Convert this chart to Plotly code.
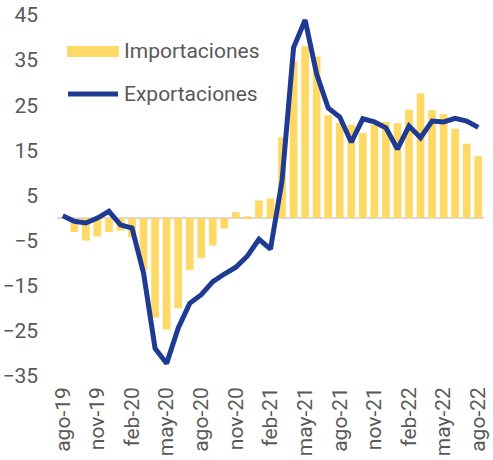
import plotly.graph_objects as go

months = ["ago-19", "sep-19", "oct-19", "nov-19", "dic-19", "ene-20", "feb-20", "mar-20",
          "abr-20", "may-20", "jun-20", "jul-20", "ago-20", "sep-20", "oct-20", "nov-20",
          "dic-20", "ene-21", "feb-21", "mar-21", "abr-21", "may-21", "jun-21", "jul-21",
          "ago-21", "sep-21", "oct-21", "nov-21", "dic-21", "ene-22", "feb-22", "mar-22",
          "abr-22", "may-22", "jun-22", "jul-22", "ago-22"]

importaciones = [0.0, -3.1, -5.0, -4.1, -3.1, -2.8, -4.3, -11.5, -22.1, -24.7, -20.0, -11.5,
                 -8.9, -6.1, -2.3, 1.3, 0.4, 3.9, 4.3, 17.9, 34.8, 38.1, 35.8, 22.8, 21.1,
                 20.7, 18.9, 20.7, 21.3, 21.0, 24.0, 27.6, 23.9, 23.0, 19.8, 16.5, 13.7]

exportaciones = [0.5, -0.7, -1.1, 0.0, 1.5, -1.5, -2.2, -12.2, -28.9, -32.2, -24.4, -18.9,
                 -17.0, -14.1, -12.4, -10.9, -8.4, -4.7, -6.9, 8.3, 37.8, 43.9, 31.9, 24.4,
                 22.4, 16.8, 22.0, 21.3, 20.0, 15.3, 20.4, 17.8, 21.5, 21.3, 22.1, 21.5, 20.1]

y_ticks = [45, 35, 25, 15, 5, -5, -15, -25, -35]
x_ticks = months[::3]

BAR_COLOR = "#FFD966"
LINE_COLOR = "#1F3A93"
TEXT_COLOR = "#595959"
FS = 21

W, H = 493, 460
ML, MR, MT, MB = 57, 9, 15, 84
PW, PH = W - ML - MR, H - MT - MB


def px_x(px):
    return (px - ML) / PW


def px_y(py):
    return (H - MB - py) / PH


fig = go.Figure()
fig.add_trace(go.Bar(x=months, y=importaciones, name="Importaciones",
                     marker=dict(color=BAR_COLOR, line=dict(width=0))))
fig.add_trace(go.Scatter(x=months, y=exportaciones, name="Exportaciones", mode="lines",
                         line=dict(color=LINE_COLOR, width=5)))

# legend drawn in pixel positions
fig.add_shape(type="rect", xref="paper", yref="paper",
              x0=px_x(67), x1=px_x(119), y0=px_y(57), y1=px_y(46),
              fillcolor=BAR_COLOR, line=dict(width=0))
fig.add_shape(type="line", xref="paper", yref="paper",
              x0=px_x(68), x1=px_x(118), y0=px_y(94), y1=px_y(94),
              line=dict(color=LINE_COLOR, width=5))
fig.add_annotation(text="Importaciones", xref="paper", yref="paper",
                   x=px_x(122), y=px_y(51), xanchor="left", yanchor="middle",
                   showarrow=False, font=dict(size=FS, color=TEXT_COLOR))
fig.add_annotation(text="Exportaciones", xref="paper", yref="paper",
                   x=px_x(122), y=px_y(94), xanchor="left", yanchor="middle",
                   showarrow=False, font=dict(size=FS, color=TEXT_COLOR))

fig.update_layout(
    width=W, height=H,
    margin=dict(l=ML, r=MR, t=MT, b=MB, autoexpand=False),
    paper_bgcolor="white", plot_bgcolor="white",
    font=dict(family="Roboto", size=FS, color=TEXT_COLOR),
    showlegend=False,
    bargap=0.33,
)
fig.update_xaxes(type="category", categoryorder="array", categoryarray=months,
                 tickmode="array", tickvals=x_ticks, ticktext=x_ticks,
                 tickangle=-90, showgrid=False, showline=False, ticks="",
                 range=[-0.5, len(months) - 0.5], ticklabelstandoff=6)
fig.update_yaxes(range=[-35, 45], tickmode="array", tickvals=y_ticks,
                 showgrid=False, showline=False, ticks="",
                 zeroline=True, zerolinecolor="#D9D9D9", zerolinewidth=2,
                 ticklabelstandoff=18)

fig.write_html("out.html", config={"displayModeBar": False},
               post_script="document.body.style.margin='0';document.body.style.overflow='hidden';")
